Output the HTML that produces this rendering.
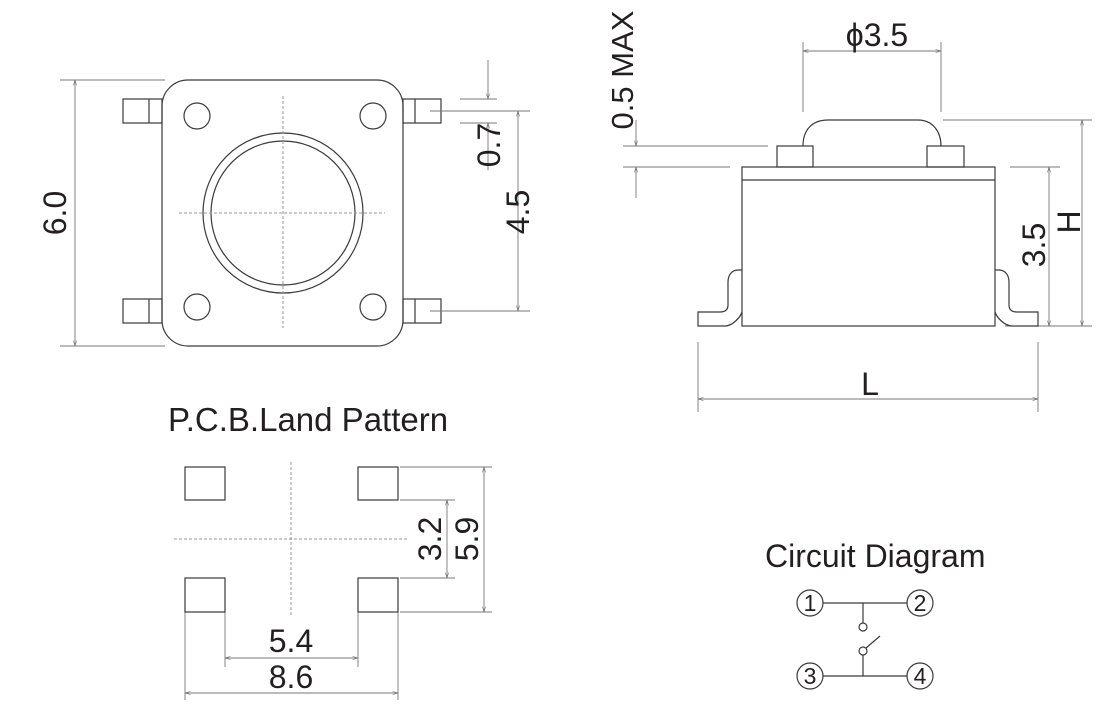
<!DOCTYPE html>
<html><head><meta charset="utf-8"><style>
body{margin:0;background:#fff}
svg{display:block}
text{font-family:"Liberation Sans",Arial,sans-serif;fill:#231f20}
</style></head><body>
<svg width="1120" height="716" viewBox="0 0 1120 716" xmlns="http://www.w3.org/2000/svg">
<defs>
<marker id="a" viewBox="0 0 10 10" refX="10" refY="5" markerWidth="6" markerHeight="6" orient="auto-start-reverse"><path d="M0,2 L10,5 L0,8" fill="none" stroke="#666" stroke-width="1"/></marker>
</defs>
<g fill="none" stroke="#3a3a3a" stroke-width="1.2">
<rect x="162" y="80" width="241" height="266" rx="26"/>
<rect x="123" y="99" width="39" height="24"/><line x1="149" y1="99" x2="149" y2="123"/>
<rect x="123" y="299" width="39" height="24"/><line x1="149" y1="299" x2="149" y2="323"/>
<rect x="403" y="99" width="38" height="24"/><line x1="415" y1="99" x2="415" y2="123"/>
<rect x="403" y="299" width="38" height="24"/><line x1="415" y1="299" x2="415" y2="323"/>
<circle cx="197" cy="116" r="13"/><circle cx="373" cy="116" r="13"/>
<circle cx="197" cy="307" r="13"/><circle cx="373" cy="307" r="13"/>
<circle cx="283" cy="213" r="80"/><circle cx="283" cy="213" r="72"/>
</g>
<g stroke="#999" stroke-width="1" stroke-dasharray="3,2" fill="none">
<line x1="283" y1="96" x2="283" y2="328"/><line x1="179" y1="213" x2="385" y2="213"/>
<line x1="291" y1="462" x2="291" y2="617"/><line x1="174" y1="539" x2="408" y2="539"/>
</g>
<g stroke="#777" stroke-width="0.9" fill="none">
<line x1="60" y1="80" x2="165" y2="80"/><line x1="60" y1="346" x2="165" y2="346"/>
<line x1="75" y1="80" x2="75" y2="346" marker-start="url(#a)" marker-end="url(#a)"/>
<line x1="460" y1="99" x2="497" y2="99"/><line x1="430" y1="111" x2="530" y2="111"/><line x1="460" y1="123" x2="497" y2="123"/>
<line x1="488" y1="60" x2="488" y2="99" marker-end="url(#a)"/><line x1="488" y1="123" x2="488" y2="170" marker-start="url(#a)"/>
<line x1="430" y1="311" x2="530" y2="311"/>
<line x1="518" y1="111" x2="518" y2="311" marker-start="url(#a)" marker-end="url(#a)"/>
<line x1="803" y1="42" x2="803" y2="112"/><line x1="941" y1="42" x2="941" y2="112"/>
<line x1="803" y1="51" x2="941" y2="51" marker-start="url(#a)" marker-end="url(#a)"/>
<line x1="943" y1="120" x2="1092" y2="120"/><line x1="1005" y1="326" x2="1092" y2="326"/>
<line x1="1082" y1="120" x2="1082" y2="326" marker-start="url(#a)" marker-end="url(#a)"/>
<line x1="1010" y1="167" x2="1060" y2="167"/>
<line x1="1049" y1="167" x2="1049" y2="326" marker-start="url(#a)" marker-end="url(#a)"/>
<line x1="623" y1="146" x2="768" y2="146"/><line x1="623" y1="167" x2="730" y2="167"/>
<line x1="636" y1="120" x2="636" y2="146" marker-end="url(#a)"/><line x1="636" y1="167" x2="636" y2="198" marker-start="url(#a)"/>
<line x1="698" y1="342" x2="698" y2="412"/><line x1="1038" y1="342" x2="1038" y2="412"/>
<line x1="698" y1="399" x2="1038" y2="399" marker-start="url(#a)" marker-end="url(#a)"/>
<line x1="400" y1="500" x2="455" y2="500"/><line x1="400" y1="578" x2="455" y2="578"/>
<line x1="447" y1="500" x2="447" y2="578" marker-start="url(#a)" marker-end="url(#a)"/>
<line x1="400" y1="467" x2="492" y2="467"/><line x1="400" y1="612" x2="492" y2="612"/>
<line x1="484" y1="467" x2="484" y2="612" marker-start="url(#a)" marker-end="url(#a)"/>
<line x1="225" y1="612" x2="225" y2="667"/><line x1="358" y1="612" x2="358" y2="667"/>
<line x1="225" y1="658" x2="358" y2="658" marker-start="url(#a)" marker-end="url(#a)"/>
<line x1="185" y1="612" x2="185" y2="700"/><line x1="398" y1="612" x2="398" y2="700"/>
<line x1="185" y1="693" x2="398" y2="693" marker-start="url(#a)" marker-end="url(#a)"/>
</g>
<g fill="none" stroke="#3a3a3a" stroke-width="1.2">
<rect x="742" y="167" width="253" height="159"/><line x1="742" y1="180" x2="995" y2="180"/>
<rect x="777" y="146" width="36" height="21"/><rect x="927" y="146" width="37" height="21"/>
<path d="M803,146 C803,130 812,120 828,120 L918,120 C933,120 941,132 941,146"/>
<path d="M742,270 L738,270 C732,270 728,275 728,282 L728,305 C728,310 725,312 720,312 L698,312 L698,326 L725,326 C732,326 740,318 742,312"/>
<path d="M995,270 L999,270 C1005,270 1009,275 1009,282 L1009,305 C1009,310 1012,312 1017,312 L1038,312 L1038,326 L1012,326 C1005,326 997,318 995,312"/>
<rect x="185" y="467" width="40" height="33"/><rect x="358" y="467" width="40" height="33"/>
<rect x="185" y="578" width="40" height="34"/><rect x="358" y="578" width="40" height="34"/>
<line x1="823" y1="603" x2="907" y2="603"/><line x1="863" y1="603" x2="863" y2="623"/>
<circle cx="863" cy="627" r="4"/><circle cx="863" cy="651" r="4"/>
<line x1="866" y1="648" x2="880" y2="636"/>
<line x1="863" y1="655" x2="863" y2="676"/><line x1="823" y1="676" x2="907" y2="676"/>
<circle cx="810" cy="603" r="13"/><circle cx="920" cy="603" r="13"/>
<circle cx="810" cy="676" r="13"/><circle cx="920" cy="676" r="13"/>
</g>
<g font-size="32" text-anchor="middle">
<text transform="translate(66,213) rotate(-90)">6.0</text>
<text transform="translate(500,145) rotate(-90)">0.7</text>
<text transform="translate(529,212) rotate(-90)">4.5</text>
<text x="877" y="46">ϕ3.5</text>
<text transform="translate(633,70) rotate(-90)" font-size="31">0.5 MAX</text>
<text transform="translate(1080,222) rotate(-90)">H</text>
<text transform="translate(1045,245) rotate(-90)">3.5</text>
<text x="870" y="395">L</text>
<text transform="translate(441,539) rotate(-90)">3.2</text>
<text transform="translate(478,539) rotate(-90)">5.9</text>
<text x="291" y="652">5.4</text>
<text x="291" y="688">8.6</text>
</g>
<text x="168" y="431" font-size="33">P.C.B.Land Pattern</text>
<text x="765" y="567" font-size="32">Circuit Diagram</text>
<g font-size="23" text-anchor="middle">
<text x="810" y="611">1</text><text x="920" y="611">2</text>
<text x="810" y="684">3</text><text x="920" y="684">4</text>
</g>
</svg>
</body></html>
